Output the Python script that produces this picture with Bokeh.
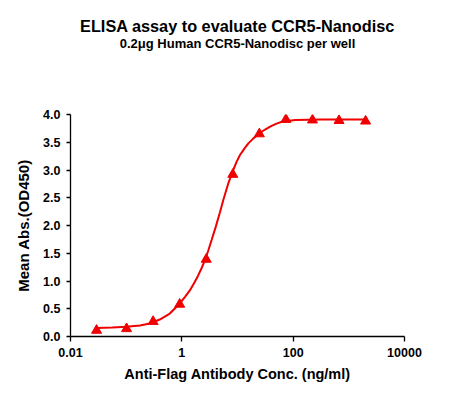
from bokeh.plotting import figure
from bokeh.models import Title, FixedTicker, CustomJSTickFormatter, Range1d
from bokeh.embed import file_html
from bokeh.resources import INLINE

# Measured points
conc = [0.0294, 0.1016, 0.3048, 0.9145, 2.743, 8.23, 24.69, 74.07, 222.2, 666.7, 2000.0]
od = [0.11, 0.14, 0.27, 0.58, 1.39, 2.92, 3.65, 3.91, 3.90, 3.89, 3.88]

# Fitted curve
curve_conc = [0.0290, 0.0562, 0.1000, 0.1778, 0.2649, 0.4018, 0.6081, 0.9204,
              1.132, 1.393, 1.656, 1.968, 2.259, 2.594, 2.985, 3.428, 4.074,
              4.842, 5.559, 6.839, 8.395, 9.661, 11.09, 13.18, 15.67, 19.28,
              23.71, 30.20, 38.55, 48.98, 62.52, 108.6, 316.2, 2000.0]
curve_od = [0.155, 0.16, 0.175, 0.20, 0.234, 0.306, 0.414, 0.595,
            0.71, 0.83, 0.96, 1.10, 1.23, 1.37, 1.55, 1.74, 1.98,
            2.24, 2.46, 2.76, 3.00, 3.15, 3.27, 3.38, 3.48, 3.57,
            3.645, 3.72, 3.78, 3.83, 3.87, 3.90, 3.91, 3.91]

x_ticks = [0.01, 1, 100, 10000]
y_ticks = [0.0, 0.5, 1.0, 1.5, 2.0, 2.5, 3.0, 3.5, 4.0]

title_text = "ELISA assay to evaluate CCR5-Nanodisc"
subtitle_text = "0.2\u03bcg Human CCR5-Nanodisc per well"
x_label = "Anti-Flag Antibody Conc. (ng/ml)"
y_label = "Mean Abs.(OD450)"

FONT = "Liberation Sans"
RED = "#f00000"

p = figure(width=443, height=392, x_axis_type="log", title=None,
           x_range=Range1d(0.01, 10000), y_range=Range1d(0, 4.0),
           output_backend="svg", toolbar_location=None,
           min_border_left=70, min_border_right=39, min_border_top=0,
           min_border_bottom=56)
p.outline_line_color = None
p.grid.visible = False
p.background_fill_color = "white"
p.border_fill_color = "white"

p.line(curve_conc, curve_od, line_color=RED, line_width=2)
p.scatter(conc, od, marker="triangle", size=10, fill_color=RED, line_color=RED)

for ax in (p.xaxis[0], p.yaxis[0]):
    ax.axis_line_color = "black"
    ax.axis_line_width = 1.3
    ax.major_tick_line_color = "black"
    ax.major_tick_line_width = 1.3
    ax.minor_tick_line_color = None
    ax.major_label_text_font = FONT
    ax.major_label_text_font_style = "bold"
    ax.major_label_text_font_size = "12.5px"
    ax.major_label_text_color = "black"
    ax.axis_label_text_font = FONT
    ax.axis_label_text_font_style = "bold"
    ax.axis_label_text_color = "black"

p.xaxis.ticker = FixedTicker(ticks=x_ticks)
p.xaxis.formatter = CustomJSTickFormatter(code="return tick < 1 ? tick.toString() : tick.toFixed(0);")
p.xaxis.major_tick_out = 5
p.xaxis.major_tick_in = 0
p.xaxis.major_label_standoff = 6
p.xaxis.axis_label = x_label
p.xaxis.axis_label_text_font_size = "14.5px"
p.xaxis.axis_label_standoff = 6

p.yaxis.ticker = FixedTicker(ticks=y_ticks)
p.yaxis.formatter = CustomJSTickFormatter(code="return tick.toFixed(1);")
p.yaxis.major_tick_out = 4
p.yaxis.major_tick_in = 0
p.yaxis.major_label_standoff = 6
p.yaxis.axis_label = y_label
p.yaxis.axis_label_text_font_size = "15px"
p.yaxis.axis_label_standoff = 8

# stacked from the plot outward: spacer, subtitle, main title, top spacer
p.add_layout(Title(text=" ", text_font_size="40px", text_font=FONT, standoff=19), "above")
p.add_layout(Title(text=subtitle_text, align="center", text_font=FONT,
                   text_font_style="bold", text_font_size="13px",
                   text_color="black", standoff=-2), "above")
p.add_layout(Title(text=title_text, align="center", text_font=FONT,
                   text_font_style="bold", text_font_size="16.3px",
                   text_color="black", standoff=0), "above")
p.add_layout(Title(text=" ", text_font_size="10px", text_font=FONT, standoff=1), "above")

open("out.html", "w").write(file_html(p, INLINE))
